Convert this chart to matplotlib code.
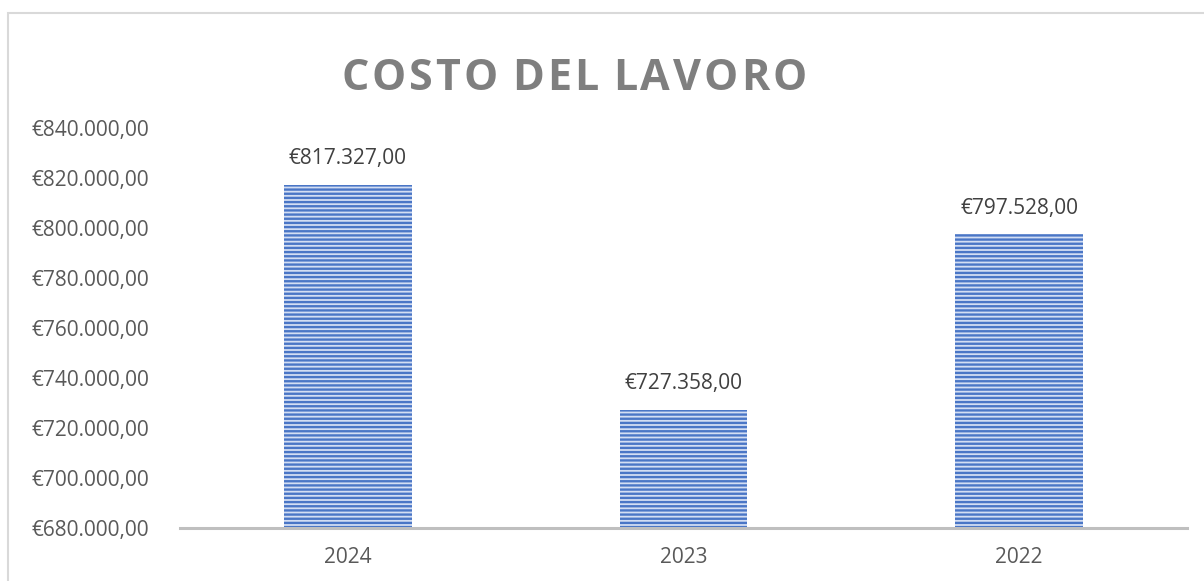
import matplotlib.pyplot as plt
from matplotlib.patches import Rectangle
from matplotlib.ticker import FuncFormatter

# Data
anni = ['2024', '2023', '2022']
costi = [817327.00, 727358.00, 797528.00]
y_ticks = [680000, 700000, 720000, 740000, 760000, 780000, 800000, 820000, 840000]
titolo = 'COSTO DEL LAVORO'


def euro(v, pos=None):
    s = '{:,.2f}'.format(v)
    s = s.replace(',', 'X').replace('.', ',').replace('X', '.')
    return '€' + s


plt.rcParams['font.family'] = ['Open Sans', 'DejaVu Sans']
plt.rcParams['hatch.linewidth'] = 1.7

fig = plt.figure(figsize=(12.04, 5.81), dpi=100)
ax = fig.add_axes([180 / 1204, 1 - 528 / 581, 1007 / 1204, 400 / 581])

x = range(len(anni))
bars = ax.bar(x, costi, width=0.38, color='#d3def3', edgecolor='#4a76c6',
              linewidth=0, hatch='----', zorder=2)

for xi, v in zip(x, costi):
    ax.annotate(euro(v), (xi, v), xytext=(0, 11), textcoords='offset points',
                ha='center', va='bottom', fontsize=15, color='#404040')

ax.set_xlim(-0.5, 2.5)
ax.set_ylim(680000, 840000)
ax.set_yticks(y_ticks)
ax.yaxis.set_major_formatter(FuncFormatter(euro))
ax.set_xticks(list(x))
ax.set_xticklabels(anni)
ax.tick_params(axis='both', length=0, labelsize=15, labelcolor='#595959')
ax.tick_params(axis='y', pad=22)
ax.tick_params(axis='x', pad=14)

for side in ['top', 'right', 'left']:
    ax.spines[side].set_visible(False)
ax.spines['bottom'].set_color('#bfbfbf')
ax.spines['bottom'].set_linewidth(2.2)
ax.spines['bottom'].set_zorder(3)

# title with a bit of letter spacing, drawn char by char
renderer = fig.canvas.get_renderer()
spacing = 3  # px
widths = []
for ch in titolo:
    t = fig.text(0, 0, ch if ch != ' ' else 'I', fontsize=31, fontweight='bold')
    w = t.get_window_extent(renderer).width
    if ch == ' ':
        w = w * 0.6
    widths.append(w)
    t.remove()
total = sum(widths) + spacing * (len(titolo) - 1)
xpos = 574 - total / 2
for ch, w in zip(titolo, widths):
    if ch != ' ':
        fig.text(xpos / 1204, 1 - 79 / 581, ch, ha='left', va='center',
                 fontsize=31, fontweight='bold', color='#7f7f7f')
    xpos += w + spacing

# chart border
fig.patches.append(Rectangle((8 / 1204, -0.1), 1.2, 1 - 13 / 581 + 0.1,
                             transform=fig.transFigure, fill=False,
                             edgecolor='#d9d9d9', linewidth=1.5))

fig.savefig('out.png', dpi=100)
